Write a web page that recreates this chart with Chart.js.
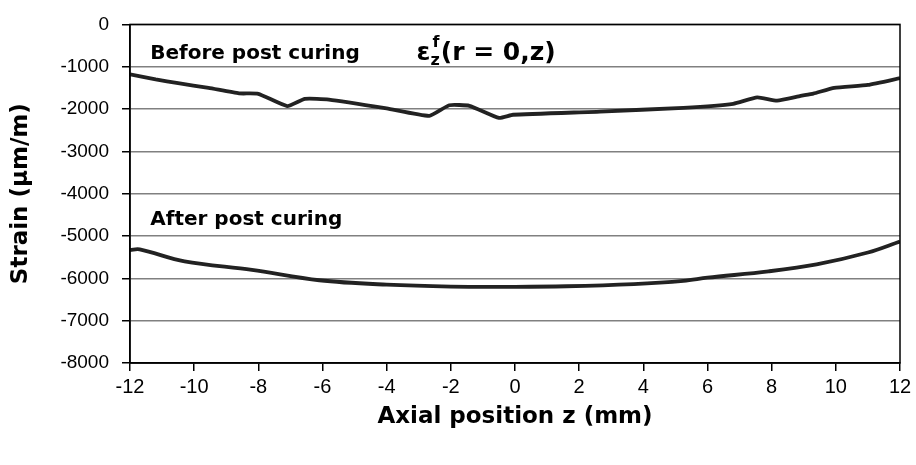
<!DOCTYPE html>
<html>
<head>
<meta charset="utf-8">
<script src="https://cdn.jsdelivr.net/npm/chart.js@4"></script>
<style>
  html, body { margin: 0; padding: 0; background: #fff; }
  #wrap { width: 916px; height: 465px; }
</style>
</head>
<body>
<div id="wrap"><canvas id="strain-chart" width="916" height="465"></canvas></div>
<script>
// axial position (mm) and strain (um/m)
const zBefore = [-12, -11.2, -10.5, -9.55, -8.6, -8.0, -7.1, -6.55, -5.8, -4.0, -2.67, -2.05, -1.42, -0.5, -0.06, 2.65, 5.25, 6.8, 7.55, 8.17, 8.9, 9.3, 9.95, 11.0, 12];
const strainBefore = [-1180, -1300, -1390, -1500, -1630, -1640, -1930, -1760, -1775, -1985, -2160, -1910, -1925, -2210, -2135, -2060, -1970, -1875, -1725, -1800, -1690, -1635, -1500, -1430, -1270];

const zAfter = [-12, -11.7, -10.3, -8.2, -6.1, -4.0, -2.0, 0, 1.6, 3.7, 5.25, 6.0, 7.9, 9.4, 11.0, 12];
const strainAfter = [-5330, -5315, -5600, -5800, -6045, -6150, -6195, -6200, -6187, -6135, -6060, -5985, -5835, -5670, -5390, -5130];

const xTicks = [-12, -10, -8, -6, -4, -2, 0, 2, 4, 6, 8, 10, 12];
const yTicks = [0, -1000, -2000, -3000, -4000, -5000, -6000, -7000, -8000];

function toPoints(xs, ys)
{
  return xs.map((x, i) => ({ x: x, y: ys[i] }));
}

// frame on top and right, plus the text labels in the plot
const framePlugin = {
  id: 'frame',
  afterDraw(chart) {
    const ctx = chart.ctx;
    const a = chart.chartArea;
    const xs = chart.scales.x, ys = chart.scales.y;
    ctx.save();
    ctx.strokeStyle = '#000';
    ctx.lineWidth = 1.5;
    ctx.strokeRect(a.left, a.top, a.right - a.left, a.bottom - a.top);

    ctx.fillStyle = '#000';
    ctx.textBaseline = 'alphabetic';
    ctx.font = 'bold 20px "DejaVu Sans"';
    ctx.fillText('Before post curing', xs.getPixelForValue(-11.37), ys.getPixelForValue(-820));
    ctx.fillText('After post curing', xs.getPixelForValue(-11.37), ys.getPixelForValue(-4750));

    // epsilon label with super/subscript
    let x = xs.getPixelForValue(-3.07);
    const base = ys.getPixelForValue(-850);
    ctx.font = 'bold 25px "DejaVu Sans"';
    ctx.fillText('\u03b5', x, base);
    x += ctx.measureText('\u03b5').width;
    ctx.font = 'bold 16px "DejaVu Sans"';
    ctx.fillText('f', x + 2, base - 13);
    ctx.fillText('z', x, base + 5);
    x += ctx.measureText('z').width + 1;
    ctx.font = 'bold 25px "DejaVu Sans"';
    ctx.fillText('(r = 0,z)', x, base);
    ctx.restore();
  }
};

const ctx = document.getElementById('strain-chart').getContext('2d');
const lineStyle = {
  borderColor: '#222',
  borderWidth: 3.8,
  pointRadius: 0,
  fill: false,
};

new Chart(ctx, {
  type: 'line',
  data: {
    datasets: [
      Object.assign({ label: 'Before post curing', data: toPoints(zBefore, strainBefore), tension: 0.15 }, lineStyle),
      Object.assign({ label: 'After post curing', data: toPoints(zAfter, strainAfter), tension: 0.35 }, lineStyle),
    ]
  },
  options: {
    responsive: false,
    animation: false,
    events: [],
    layout: { padding: { top: 12, right: 16, left: 0, bottom: 0 } },
    plugins: { legend: { display: false }, tooltip: { enabled: false } },
    scales: {
      x: {
        type: 'linear',
        min: -12,
        max: 12,
        afterFit(scale) { scale.height = 102; },
        afterBuildTicks(scale) { scale.ticks = xTicks.map(v => ({ value: v })); },
        grid: { drawOnChartArea: false, color: '#000', tickLength: 8, lineWidth: 1.5 },
        border: { color: '#000', width: 1.5 },
        ticks: {
          color: '#000',
          font: { family: 'Liberation Sans', size: 20 },
          padding: 4,
          maxRotation: 0,
          callback: (v) => String(v)
        },
        title: {
          display: true,
          text: 'Axial position z (mm)',
          color: '#000',
          font: { family: 'DejaVu Sans', size: 23, weight: 'bold' },
          padding: { top: 0, bottom: 34 }
        }
      },
      y: {
        min: -8000,
        max: 0,
        afterFit(scale) { scale.width = 130; },
        afterBuildTicks(scale) { scale.ticks = yTicks.map(v => ({ value: v })); },
        grid: { color: '#808080', tickColor: '#000', tickLength: 8, lineWidth: 1.5 },
        border: { color: '#000', width: 1.5 },
        ticks: {
          color: '#000',
          font: { family: 'Liberation Sans', size: 19 },
          padding: 13,
          callback: (v) => String(v)
        },
        title: {
          display: true,
          text: 'Strain (\u03bcm/m)',
          color: '#000',
          font: { family: 'DejaVu Sans', size: 23, weight: 'bold' },
          padding: { top: 7, bottom: 0 }
        }
      }
    }
  },
  plugins: [framePlugin]
});
</script>
</body>
</html>
